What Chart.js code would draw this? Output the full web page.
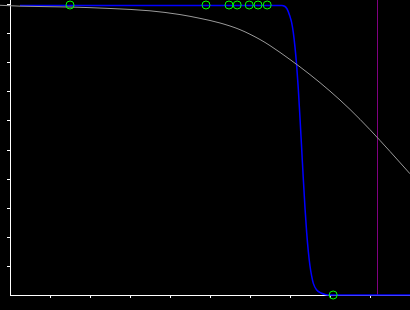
<!DOCTYPE html>
<html>
<head>
<meta charset="utf-8">
<script src="https://cdn.jsdelivr.net/npm/chart.js@4.4.1/dist/chart.umd.min.js"></script>
<style>
  html,body{margin:0;padding:0;background:#000;}
  #wrap{width:410px;height:310px;}
</style>
</head>
<body>
<div id="wrap"><canvas id="chart"></canvas></div>
<script>
// gray smooth curve
const grayX=[-0.25,0.25,1.5,2.5,3.5,4.25,4.75,5.25,5.75,6.25,6.5,7.0,7.5,8.0,8.5,9.0,9.5,10.0];
const grayY=[0.999,0.996,0.993,0.988,0.980,0.967,0.954,0.938,0.915,0.881,0.860,0.812,0.760,0.703,0.640,0.570,0.495,0.418];

// blue steep curve
const blueX=[0.25,6.8,6.92,7.0,7.04,7.083,7.125,7.167,7.208,7.25,7.29,7.333,7.375,7.417,7.458,7.5,7.542,7.583,7.667,7.79,7.875,8.0,10.0];
const blueY=[0.998,0.998,0.988,0.96,0.94,0.905,0.855,0.79,0.71,0.61,0.51,0.40,0.30,0.215,0.15,0.10,0.065,0.04,0.017,0.006,0.002,0,0];

// green markers
const ptX=[1.5,4.9,5.475,5.68,5.98,6.2,6.43,8.08];
const ptY=[1,1,1,1,1,1,1,0];

// purple vertical marker
const markX=9.1875;

const yMax=1+5/290;
const xy=(xs,ys)=>xs.map((x,i)=>({x,y:ys[i]}));
const tickCol=c=>(c.tick&&(c.tick.value===0||c.tick.value===10))?'rgba(0,0,0,0)':'#fff';

new Chart(document.getElementById('chart'),{
  type:'scatter',
  data:{
    datasets:[
      {data:xy(ptX,ptY),showLine:false,pointRadius:4,pointBorderWidth:1,
       pointBorderColor:'#00ff00',pointBackgroundColor:'rgba(0,0,0,0)',clip:false},
      {data:xy(grayX,grayY),showLine:true,borderColor:'#9a9a9a',borderWidth:1,
       pointRadius:0,cubicInterpolationMode:'monotone',clip:false},
      {data:xy(blueX,blueY),showLine:true,borderColor:'#0000ff',borderWidth:1.5,
       pointRadius:0,cubicInterpolationMode:'monotone',clip:false},
      {data:[{x:markX,y:0},{x:markX,y:yMax}],showLine:true,borderColor:'#800080',
       borderWidth:1,pointRadius:0,clip:false}
    ]
  },
  options:{
    responsive:true,maintainAspectRatio:false,animation:false,
    layout:{autoPadding:false,padding:{left:7,right:0,top:0,bottom:12}},
    plugins:{legend:{display:false},tooltip:{enabled:false}},
    scales:{
      x:{type:'linear',min:0,max:10,
         ticks:{display:false,stepSize:1,includeBounds:false},
         grid:{drawOnChartArea:false,drawTicks:true,tickLength:3,color:tickCol},
         border:{color:'#fff',width:1}},
      y:{type:'linear',min:0,max:yMax,
         ticks:{display:false,stepSize:0.1,includeBounds:false},
         grid:{drawOnChartArea:false,drawTicks:true,tickLength:3,color:tickCol},
         border:{color:'#fff',width:1}}
    }
  }
});
</script>
</body>
</html>
